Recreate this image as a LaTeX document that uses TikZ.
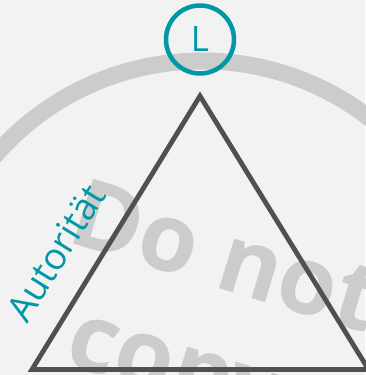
\documentclass[tikz,border=0pt]{standalone}
\usepackage{fontspec}
\setmainfont{Open Sans}
\definecolor{bg}{HTML}{F2F2F2}
\definecolor{wm}{HTML}{CCCCCC}
\definecolor{teal}{RGB}{0,151,167}
\definecolor{tri}{HTML}{505050}
\tikzset{
  watermark/.style={text=wm, font=\fontsize{95}{95}\selectfont\bfseries, inner sep=0pt, rotate=-17},
  leader/.style={circle, draw=teal, line width=4.5pt, minimum size=68pt, inner sep=0pt, text=teal, font=\fontsize{35}{35}\selectfont},
  edgelabel/.style={text=teal, font=\fontsize{37}{37}\selectfont, inner sep=0pt, rotate=58.3},
  triline/.style={draw=tri, line width=4.8pt, line join=miter}
}
\begin{document}
\begin{tikzpicture}[x=1pt,y=-1pt]
\useasboundingbox (0,0) rectangle (365,375);
\fill[bg] (0,0) rectangle (365,375);
% watermark
\draw[wm, line width=17pt] (202,335) circle[radius=274pt];
\node[watermark, anchor=base west] (wm1) at (65,241) {Do not};
\node[watermark, anchor=base west] (wm2) at (62,363) {copy};
% triangle
\coordinate (top) at (200,96);
\coordinate (bl) at (32,369.5);
\coordinate (br) at (368.5,369.5);
\draw[triline] (top) -- (bl) -- (br) -- cycle;
% leader circle
\node[leader] (L) at (200,39.5) {L};
% label
\node[edgelabel, anchor=base west] (aut) at (27,325) {Autorität};
\end{tikzpicture}
\end{document}
